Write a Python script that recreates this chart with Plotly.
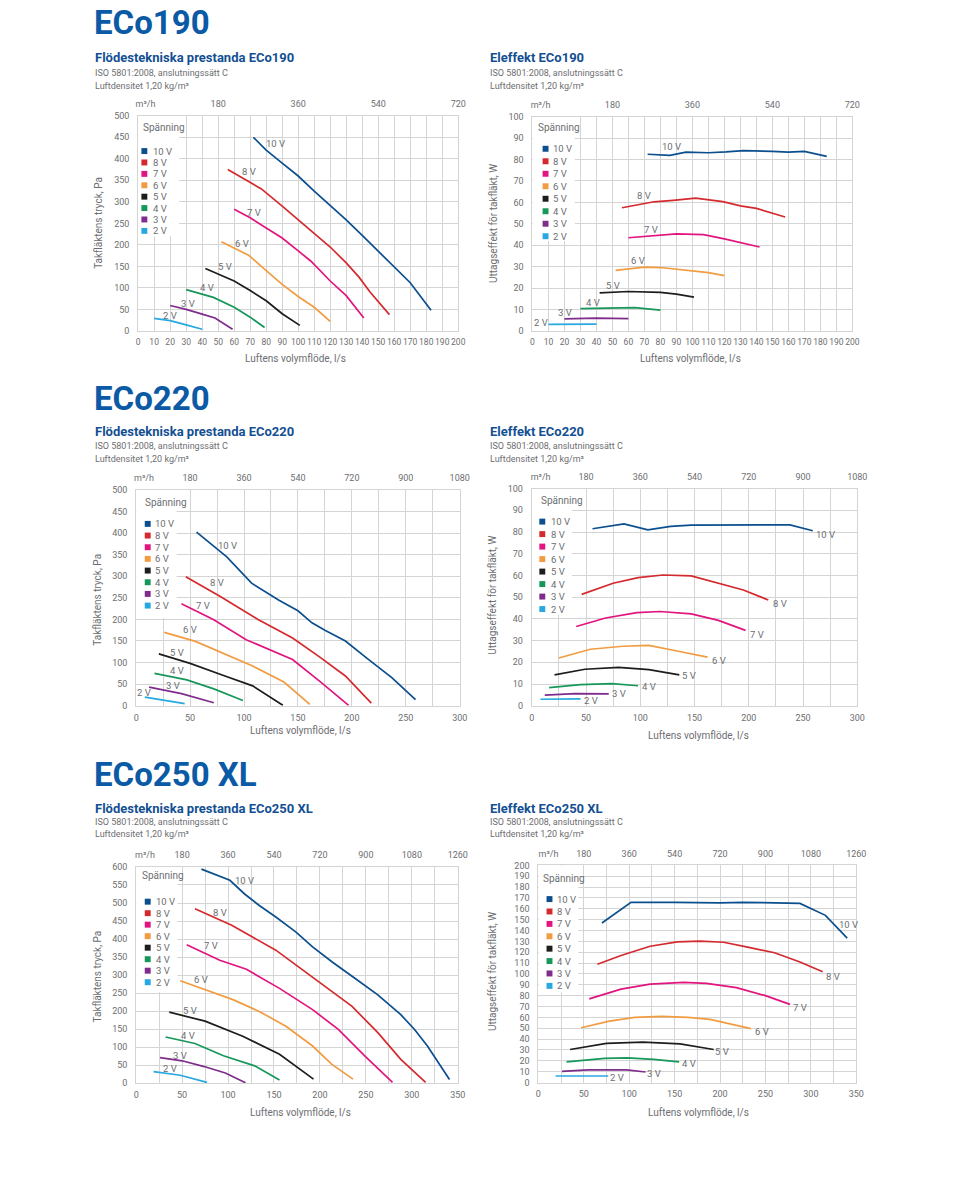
import plotly.graph_objects as go

W, H = 960, 1186
FONT = "Roboto"
TXT = "#6d6e71"
GRID = "#d4d4d4"
BLUE_T = "#0b5aa6"
BLUE_H = "#134f92"

VOLTS = ["10 V", "8 V", "7 V", "6 V", "5 V", "4 V", "3 V", "2 V"]
COLORS = ["#0b4f8e", "#d42a2f", "#e2147f", "#f29c42", "#1d1d1b", "#17975a", "#7f2c8c", "#27a8e0"]

# ---------------- ECo190 : tryck (Pa) ----------------
ECO190_TRYCK_Q = {
    "10 V": [72, 80, 90, 100, 110, 120, 130, 140, 150, 160, 170, 183],
    "8 V": [56, 70, 77, 90, 100, 110, 120, 130, 138, 145, 157],
    "7 V": [60, 70, 80, 90, 100, 108, 120, 130, 141],
    "6 V": [52, 60, 69, 80, 90, 100, 110, 120],
    "5 V": [42, 50, 56, 60, 70, 80, 90, 101],
    "4 V": [30, 40, 47, 60, 70, 79],
    "3 V": [20, 30, 40, 48, 59],
    "2 V": [10, 20, 30, 40],
}
ECO190_TRYCK_PA = {
    "10 V": [450, 420, 390, 360, 325, 292, 258, 222, 185, 150, 112, 48],
    "8 V": [375, 346, 330, 290, 258, 226, 195, 158, 125, 90, 38],
    "7 V": [283, 263, 239, 216, 186, 162, 116, 82, 30],
    "6 V": [207, 193, 176, 140, 108, 80, 55, 22],
    "5 V": [145, 132, 123, 116, 94, 70, 40, 13],
    "4 V": [96, 86, 78, 55, 32, 8],
    "3 V": [59, 50, 39, 30, 4],
    "2 V": [29, 24, 14, 4],
}
# ---------------- ECo190 : effekt (W) ----------------
ECO190_EFFEKT_Q = {
    "10 V": [72, 86, 96, 110, 121, 132, 150, 160, 170, 184],
    "8 V": [56, 76, 88, 102, 119, 130, 140, 158],
    "7 V": [60, 80, 90, 107, 120, 142],
    "6 V": [52, 70, 80, 90, 100, 110, 120],
    "5 V": [42, 50, 60, 80, 90, 101],
    "4 V": [30, 50, 64, 80],
    "3 V": [20, 40, 60],
    "2 V": [10, 40],
}
ECO190_EFFEKT_W = {
    "10 V": [82.5, 82, 83.5, 83.2, 83.6, 84.2, 83.8, 83.5, 83.8, 81.5],
    "8 V": [57.5, 60.3, 61, 62, 60.4, 58.4, 57.2, 53.2],
    "7 V": [43.5, 44.5, 45.3, 45, 43, 39.2],
    "6 V": [28.3, 29.8, 29.6, 28.8, 28, 27.2, 25.8],
    "5 V": [17.8, 18.2, 18.4, 18, 17.2, 15.8],
    "4 V": [10.4, 10.8, 10.9, 9.7],
    "3 V": [5.6, 6, 5.7],
    "2 V": [3.1, 3.2],
}
# ---------------- ECo220 : tryck (Pa) ----------------
ECO220_TRYCK_Q = {
    "10 V": [56, 84, 107, 132, 150, 163, 175, 194, 215, 237, 259],
    "8 V": [46, 78, 113, 145, 169, 194, 218],
    "7 V": [42, 72, 102, 145, 170, 197],
    "6 V": [26, 55, 108, 137, 161],
    "5 V": [21, 50, 81, 108, 136],
    "4 V": [17, 47, 72, 99],
    "3 V": [12, 42, 72],
    "2 V": [8, 45],
}
ECO220_TRYCK_PA = {
    "10 V": [402, 345, 284, 245, 220, 192, 175, 150, 108, 65, 14],
    "8 V": [299, 253, 200, 157, 115, 69, 6],
    "7 V": [236, 199, 153, 107, 57, 1],
    "6 V": [170, 149, 92, 55, 3],
    "5 V": [120, 98, 70, 46, 1],
    "4 V": [75, 60, 39, 12],
    "3 V": [43, 28, 7],
    "2 V": [20, 5],
}
# ---------------- ECo220 : effekt (W) ----------------
ECO220_EFFEKT_Q = {
    "10 V": [56, 85, 107, 128, 147, 192, 238, 259],
    "8 V": [46, 75, 98, 121, 147, 168, 195, 218],
    "7 V": [41, 68, 97, 118, 147, 172, 197],
    "6 V": [25, 54, 84, 108, 134, 162],
    "5 V": [21, 49, 80, 108, 136],
    "4 V": [16, 45, 74, 98],
    "3 V": [12, 40, 71],
    "2 V": [8, 45],
}
ECO220_EFFEKT_W = {
    "10 V": [81.5, 83.7, 81, 82.6, 83.2, 83.2, 83.3, 80.6],
    "8 V": [51.3, 56.4, 59, 60.2, 59.8, 57.1, 53.3, 48.7],
    "7 V": [36.5, 40.4, 42.9, 43.4, 42.3, 39.3, 34.7],
    "6 V": [22, 26, 27.4, 27.8, 25.2, 22.4],
    "5 V": [14.2, 16.8, 17.7, 16.6, 14.2],
    "4 V": [8.3, 9.7, 10.2, 9.2],
    "3 V": [4.9, 5.6, 5.5],
    "2 V": [3, 3.2],
}
# ---------------- ECo250 XL : tryck (Pa) ----------------
ECO250_TRYCK_Q = {
    "10 V": [71, 102, 118, 134, 152, 174, 192, 213, 238, 263, 288, 303, 317, 341],
    "8 V": [64, 104, 152, 192, 235, 263, 288, 315],
    "7 V": [55, 91, 120, 156, 192, 220, 249, 279],
    "6 V": [48, 77, 106, 134, 163, 192, 213, 236],
    "5 V": [36, 75, 116, 156, 193],
    "4 V": [32, 64, 95, 129, 156],
    "3 V": [26, 50, 74, 97, 119],
    "2 V": [19, 48, 77],
}
ECO250_TRYCK_PA = {
    "10 V": [594, 563, 525, 493, 461, 419, 378, 337, 291, 245, 190, 149, 103, 10],
    "8 V": [484, 438, 369, 295, 213, 140, 66, 2],
    "7 V": [384, 341, 316, 263, 204, 149, 75, 2],
    "6 V": [284, 258, 231, 199, 158, 103, 52, 11],
    "5 V": [197, 172, 130, 80, 11],
    "4 V": [128, 110, 76, 48, 9],
    "3 V": [71, 62, 46, 28, 1],
    "2 V": [32, 22, 2],
}
# ---------------- ECo250 XL : effekt (W) ----------------
ECO250_EFFEKT_Q = {
    "10 V": [70, 102, 150, 200, 225, 250, 288, 316, 340],
    "8 V": [65, 91, 123, 153, 178, 204, 229, 260, 288, 313],
    "7 V": [56, 91, 123, 160, 185, 218, 250, 277],
    "6 V": [47, 77, 106, 136, 165, 189, 234],
    "5 V": [35, 75, 115, 156, 193],
    "4 V": [31, 73, 98, 127, 155],
    "3 V": [26, 55, 97, 118],
    "2 V": [19, 77],
}
ECO250_EFFEKT_W = {
    "10 V": [147, 166, 166, 165.5, 166, 165.5, 165, 154, 133],
    "8 V": [109, 117, 125.5, 129.5, 130.3, 129.2, 125, 119.5, 111, 102],
    "7 V": [77, 86, 90.7, 92.3, 91.4, 87.4, 80, 72],
    "6 V": [50.5, 56.3, 60, 61, 60, 58.2, 49.6],
    "5 V": [30.4, 36, 37.2, 35.6, 30.4],
    "4 V": [19, 22.3, 22.8, 21.4, 19],
    "3 V": [10.3, 11.6, 11.6, 9.7],
    "2 V": [6, 6],
}

# top axis (m3/h) tick labels
TOP190_VALS = [50, 100, 150, 200]
TOP190_TEXT = ["180", "360", "540", "720"]
TOP220_VALS = [50, 100, 150, 200, 250, 300]
TOP220_TEXT = ["180", "360", "540", "720", "900", "1080"]
TOP250_VALS = [50, 100, 150, 200, 250, 300, 350]
TOP250_TEXT = ["180", "360", "540", "720", "900", "1080", "1260"]
TOP_UNIT = "m³/h"

YT_P = "Takfläktens tryck, Pa"
YT_W = "Uttagseffekt för takfläkt, W"
XT = "Luftens volymflöde, l/s"

# ---------- layout configuration (pixel positions) ----------
SUBPLOTS = [
    dict(q=ECO190_TRYCK_Q, v=ECO190_TRYCK_PA, xr=(137, 461.5), yr=(111.7, 328.7), xmax=200, ymax=500,
         xdt=10, xminor=None, ydt=50, tv=TOP190_VALS, tt=TOP190_TEXT, box=(25.5, 220),
         sq_x=143.3, tx_x=150, leg_y0=147.3, leg_dy=11.5, sp=(140, 123.3), yt=YT_P, yt_xy=(96, 220),
         xt_xy=(296.7, 356.7), m3x=144.5, xfs=8.5,
         lbl=[(86, 435), (69.5, 371), (72.4, 276), (65, 204), (54.5, 150), (43, 100), (31, 64), (20, 37)]),
    dict(q=ECO190_EFFEKT_Q, v=ECO190_EFFEKT_W, xr=(536.7, 861), yr=(112.7, 328.7), xmax=200, ymax=100,
         xdt=10, xminor=None, ydt=10, tv=TOP190_VALS, tt=TOP190_TEXT, box=(26.5, 42),
         sq_x=550, tx_x=556, leg_y0=145, leg_dy=12.6, sp=(540, 124), yt=YT_W, yt_xy=(496.5, 220),
         xt_xy=(696.7, 356.7), m3x=545, xfs=8.5,
         lbl=[(87, 86), (69.5, 63), (74, 47.5), (66, 33), (50.4, 21.3), (38, 13.3), (20.6, 8.6), (5.1, 3.7)]),
    dict(q=ECO220_TRYCK_Q, v=ECO220_TRYCK_PA, xr=(135, 463), yr=(489, 706.7), xmax=300, ymax=500,
         xdt=50, xminor=25, ydt=50, tv=TOP220_VALS, tt=TOP220_TEXT, box=(37.5, 203),
         sq_x=146.7, tx_x=151.7, leg_y0=523.3, leg_dy=11.77, sp=(141.7, 501.7), yt=YT_P, yt_xy=(96, 600),
         xt_xy=(301.7, 732), m3x=143, xfs=9,
         lbl=[(85, 371), (75, 286), (62, 232), (50, 176), (38, 124), (37.5, 81), (34, 47.5), (7, 30.6)]),
    dict(q=ECO220_EFFEKT_Q, v=ECO220_EFFEKT_W, xr=(536, 866), yr=(487.7, 706.7), xmax=300, ymax=100,
         xdt=50, xminor=25, ydt=10, tv=TOP220_VALS, tt=TOP220_TEXT, box=(37, 42),
         sq_x=546.7, tx_x=553, leg_y0=521, leg_dy=12.6, sp=(543, 499.3), yt=YT_W, yt_xy=(496.5, 595),
         xt_xy=(705, 736.7), m3x=545, xfs=9,
         lbl=[(270.5, 78.8), (228.6, 47.2), (207.3, 33), (172.3, 21), (145, 13.7), (107.6, 9), (80.2, 5.5), (54.4, 2.4)]),
    dict(q=ECO250_TRYCK_Q, v=ECO250_TRYCK_PA, xr=(135, 461), yr=(869.3, 1087.3), xmax=350, ymax=600,
         xdt=50, xminor=25, ydt=50, tv=TOP250_VALS, tt=TOP250_TEXT, box=(45, 253),
         sq_x=146.7, tx_x=153, leg_y0=904.3, leg_dy=11.6, sp=(139, 878.3), yt=YT_P, yt_xy=(96, 980),
         xt_xy=(301.7, 1116.7), m3x=144, xfs=9,
         lbl=[(118, 563), (91.4, 475), (81.7, 381), (70.9, 288), (59, 201), (56.3, 132), (47.3, 78), (37, 41)]),
    dict(q=ECO250_EFFEKT_Q, v=ECO250_EFFEKT_W, xr=(542.7, 865), yr=(867.7, 1086.7), xmax=350, ymax=200,
         xdt=50, xminor=25, ydt=10, tv=TOP250_VALS, tt=TOP250_TEXT, box=(44, 83),
         sq_x=554, tx_x=560, leg_y0=901.7, leg_dy=12.5, sp=(545, 880.7), yt=YT_W, yt_xy=(497, 975),
         xt_xy=(705, 1116.7), m3x=553, xfs=9,
         lbl=[(341, 146), (324.6, 97.4), (288.5, 69.4), (245.7, 46.9), (202.7, 28.3), (165.4, 17.4), (127.4, 8.5), (86.9, 4.6)]),
]

HEADERS = [
    dict(big="ECo190", big_y=17.3, left="Flödestekniska prestanda ECo190", right="Eleffekt ECo190",
         h_y=53.3, iso_y=69, luft_y=81.5),
    dict(big="ECo220", big_y=396.7, left="Flödestekniska prestanda ECo220", right="Eleffekt ECo220",
         h_y=430, iso_y=445, luft_y=457.5),
    dict(big="ECo250 XL", big_y=776, left="Flödestekniska prestanda ECo250 XL", right="Eleffekt ECo250 XL",
         h_y=810, iso_y=823.5, luft_y=836),
]
ISO = "ISO 5801:2008, anslutningssätt C"
LUFT = "Luftdensitet 1,20 kg/m³"


def px(x):
    return x / W


def py(y):
    return 1 - y / H


fig = go.Figure()
layout = {}
annotations = []
shapes = []
tickfont = dict(family=FONT, size=9, color=TXT)

for i, sp in enumerate(SUBPLOTS, start=1):
    xa = "x" if i == 1 else f"x{i}"
    ya = "y" if i == 1 else f"y{i}"
    xname = "xaxis" if i == 1 else f"xaxis{i}"
    yname = "yaxis" if i == 1 else f"yaxis{i}"
    tname = f"xaxis{i + 6}"
    tref = f"x{i + 6}"

    for k, volt in enumerate(VOLTS):
        fig.add_trace(go.Scatter(
            x=sp["q"][volt], y=sp["v"][volt], mode="lines",
            line=dict(color=COLORS[k], width=1.7), xaxis=xa, yaxis=ya,
            showlegend=False, name=volt, hoverinfo="skip"))
        lx, ly = sp["lbl"][k]
        annotations.append(dict(x=lx, y=ly, xref=xa, yref=ya, text=volt, showarrow=False,
                                font=dict(family=FONT, size=9.5, color=TXT)))

    xaxis = dict(domain=[px(sp["xr"][0]), px(sp["xr"][1])], range=[0, sp["xmax"]], anchor=ya,
                 dtick=sp["xdt"], tick0=0, showgrid=True, gridcolor=GRID, gridwidth=1,
                 showline=True, linecolor=GRID, linewidth=1, mirror=True, zeroline=False,
                 ticks="", tickangle=0, tickfont=dict(family=FONT, size=sp["xfs"], color=TXT),
                 ticklabelstandoff=3, fixedrange=True)
    if sp["xminor"]:
        xaxis["minor"] = dict(dtick=sp["xminor"], showgrid=True, gridcolor=GRID, gridwidth=1, ticks="")
    layout[xname] = xaxis
    layout[yname] = dict(domain=[py(sp["yr"][1]), py(sp["yr"][0])], range=[0, sp["ymax"]], anchor=xa,
                         dtick=sp["ydt"], tick0=0, showgrid=True, gridcolor=GRID, gridwidth=1,
                         showline=True, linecolor=GRID, linewidth=1, mirror=True, zeroline=False,
                         ticks="", tickfont=tickfont, ticklabelstandoff=6, fixedrange=True)
    # unit label sits on the top axis as its first tick
    scale = sp["xmax"] / (sp["xr"][1] - sp["xr"][0])
    unit_val = (sp["m3x"] - sp["xr"][0]) * scale
    layout[tname] = dict(overlaying=xa, matches=xa, side="top", anchor=ya, range=[0, sp["xmax"]],
                         tickmode="array", tickvals=[unit_val] + sp["tv"], ticktext=[TOP_UNIT] + sp["tt"],
                         showgrid=False, showline=False, zeroline=False, ticks="", tickangle=0,
                         tickfont=tickfont, ticklabelstandoff=6, fixedrange=True)
    fig.add_trace(go.Scatter(x=[0], y=[0], xaxis=tref, yaxis=ya, mode="markers",
                             marker=dict(opacity=0), showlegend=False, hoverinfo="skip"))

    # white legend box (between grid and traces)
    bx, by = sp["box"]
    shapes.append(dict(type="rect", xref=xa, yref=ya, x0=0, x1=bx, y0=by, y1=sp["ymax"],
                       fillcolor="white", line=dict(width=0), layer="between"))
    annotations.append(dict(x=px(sp["sp"][0]), y=py(sp["sp"][1]), xref="paper", yref="paper",
                            text="Spänning", showarrow=False, xanchor="left", yanchor="middle",
                            font=dict(family=FONT, size=10, color=TXT)))
    for k, volt in enumerate(VOLTS):
        cy = sp["leg_y0"] + k * sp["leg_dy"]
        cx = sp["sq_x"]
        shapes.append(dict(type="rect", xref="paper", yref="paper",
                           x0=px(cx - 3), x1=px(cx + 3), y0=py(cy + 3), y1=py(cy - 3),
                           fillcolor=COLORS[k], line=dict(width=0), layer="above"))
        annotations.append(dict(x=px(sp["tx_x"]), y=py(cy), xref="paper", yref="paper", text=volt,
                                showarrow=False, xanchor="left", yanchor="middle",
                                font=dict(family=FONT, size=9.5, color=TXT)))
    annotations.append(dict(x=px(sp["xt_xy"][0]), y=py(sp["xt_xy"][1]), xref="paper", yref="paper",
                            text=XT, showarrow=False, xanchor="center", yanchor="middle",
                            font=dict(family=FONT, size=10, color=TXT)))
    annotations.append(dict(x=px(sp["yt_xy"][0]), y=py(sp["yt_xy"][1]), xref="paper", yref="paper",
                            text=sp["yt"], showarrow=False, textangle=-90, xanchor="center",
                            yanchor="middle", font=dict(family=FONT, size=10, color=TXT)))

for hd in HEADERS:
    annotations.append(dict(x=px(90), y=py(hd["big_y"]), xref="paper", yref="paper", text=f"<b>{hd['big']}</b>",
                            showarrow=False, xanchor="left", yanchor="middle",
                            font=dict(family=FONT, size=33, color=BLUE_T)))
    for colx, head in ((91.5, hd["left"]), (491.5, hd["right"])):
        annotations.append(dict(x=px(colx), y=py(hd["h_y"]), xref="paper", yref="paper",
                                text=f"<b>{head}</b>", showarrow=False, xanchor="left", yanchor="middle",
                                font=dict(family=FONT, size=13, color=BLUE_H)))
        annotations.append(dict(x=px(colx), y=py(hd["iso_y"]), xref="paper", yref="paper", text=ISO,
                                showarrow=False, xanchor="left", yanchor="middle",
                                font=dict(family=FONT, size=9, color=TXT)))
        annotations.append(dict(x=px(colx), y=py(hd["luft_y"]), xref="paper", yref="paper", text=LUFT,
                                showarrow=False, xanchor="left", yanchor="middle",
                                font=dict(family=FONT, size=9, color=TXT)))

fig.update_layout(**layout)
fig.update_layout(width=W, height=H, autosize=False, margin=dict(l=0, r=0, t=0, b=0),
                  paper_bgcolor="white", plot_bgcolor="white", showlegend=False, hovermode=False,
                  annotations=annotations, shapes=shapes, font=dict(family=FONT, color=TXT))

fig.write_html("out.html", config={"displayModeBar": False},
               post_script="document.body.style.margin='0';document.body.style.padding='0';"
                           "document.body.style.overflow='hidden';")
